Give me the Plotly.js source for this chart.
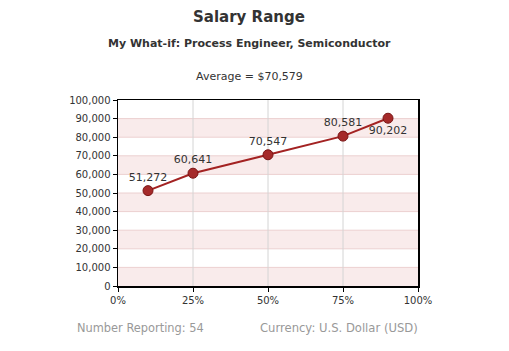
<!DOCTYPE html>
<html><head><meta charset="utf-8">
<script src="https://cdn.plot.ly/plotly-3.0.1.min.js"></script>
<style>html,body{margin:0;padding:0;background:#fff}#chart{width:509px;height:351px}</style>
</head><body><div id="chart"></div>
<script>
var percentiles = [10, 25, 50, 75, 90];
var salaries = [51272, 60641, 70547, 80581, 90202];
var labelPos = ['top center','top center','top center','top center','bottom center'];
var xTickVals = [0, 25, 50, 75, 100];
var xTickText = ['0%', '25%', '50%', '75%', '100%'];
var yTickVals = [0,10000,20000,30000,40000,50000,60000,70000,80000,90000,100000];
var bandStarts = [0, 20000, 40000, 60000, 80000];

var F = 'DejaVu Sans, Verdana, sans-serif';
var shapes = [];
var sh = [[6,0.03],[5,0.04],[4,0.05],[3,0.06],[2,0.07]];
sh.forEach(function(s){
  shapes.push({type:'rect', xref:'x', yref:'y', layer:'below',
    x0:0, x1:100 + s[0]/3, y0:-s[0]*10000/18.6, y1:100000 - 8*10000/18.6,
    line:{width:0}, fillcolor:'rgba(0,0,0,'+s[1]+')'});
});
shapes.push({type:'rect', xref:'x', yref:'y', layer:'below', x0:0, x1:100, y0:0, y1:100000,
  line:{width:0}, fillcolor:'#ffffff'});
bandStarts.forEach(function(b){
  shapes.push({type:'rect', xref:'x', yref:'y', layer:'below', x0:0, x1:100, y0:b, y1:b+10000,
    line:{width:0}, fillcolor:'#f9ebeb'});
});
yTickVals.slice(1,10).forEach(function(v){
  shapes.push({type:'line', xref:'x', yref:'y', layer:'below', x0:0, x1:100, y0:v, y1:v,
    line:{width:1, color:'#ecd0d0'}});
});
[25,50,75].forEach(function(v){
  shapes.push({type:'line', xref:'x', yref:'y', layer:'below', x0:v, x1:v, y0:0, y1:100000,
    line:{width:1, color:'#d4d4d4'}});
});

var trace = {
  x: percentiles, y: salaries, type:'scatter', mode:'lines+markers+text',
  text: salaries.map(function(v){return v.toLocaleString('en-US');}),
  textposition: labelPos,
  textfont:{family:F, size:11, color:'#333333'},
  line:{color:'#a32222', width:2},
  marker:{size:10, color:'#a52a2a', line:{color:'#7a1515', width:1}},
  cliponaxis:false, hoverinfo:'none'
};

var layout = {
  width:509, height:351,
  margin:{l:118, r:91, t:100, b:65},
  paper_bgcolor:'#ffffff', plot_bgcolor:'rgba(0,0,0,0)',
  showlegend:false,
  font:{family:F, size:10, color:'#333333'},
  xaxis:{range:[0,100], tickvals:xTickVals, ticktext:xTickText, showgrid:false, zeroline:false,
    showline:true, linecolor:'#000000', linewidth:1.5, mirror:true,
    ticks:'outside', ticklen:4, tickcolor:'#000000', tickfont:{family:F, size:10, color:'#333333'}},
  yaxis:{range:[0,100000], tickvals:yTickVals, tickformat:',d', showgrid:false, zeroline:false,
    showline:true, linecolor:'#000000', linewidth:1.5, mirror:true,
    ticks:'outside', ticklen:4, tickcolor:'#000000', tickfont:{family:F, size:10, color:'#333333'}},
  shapes: shapes,
  annotations:[
    {text:'<b>Salary Range</b>', xref:'paper', yref:'paper', x:0.437, y:1, yshift:83, showarrow:false,
      font:{family:F, size:15, color:'#333333'}, xanchor:'center', yanchor:'middle'},
    {text:'<b>My What-if: Process Engineer, Semiconductor</b>', xref:'paper', yref:'paper', x:0.437, y:1, yshift:57, showarrow:false,
      font:{family:F, size:11, color:'#333333'}, xanchor:'center', yanchor:'middle'},
    {text:'Average = $70,579', xref:'paper', yref:'paper', x:0.437, y:1, yshift:24, showarrow:false,
      font:{family:F, size:11, color:'#333333'}, xanchor:'center', yanchor:'middle'},
    {text:'Number Reporting: 54', xref:'paper', yref:'paper', x:-0.143, y:0, yshift:-42, showarrow:false,
      font:{family:F, size:11.4, color:'#999999'}, xanchor:'left', yanchor:'middle'},
    {text:'Currency: U.S. Dollar (USD)', xref:'paper', yref:'paper', x:0.467, y:0, yshift:-42, showarrow:false,
      font:{family:F, size:11.6, color:'#999999'}, xanchor:'left', yanchor:'middle'}
  ]
};
Plotly.newPlot('chart', [trace], layout, {displayModeBar:false, staticPlot:true});
</script></body></html>
